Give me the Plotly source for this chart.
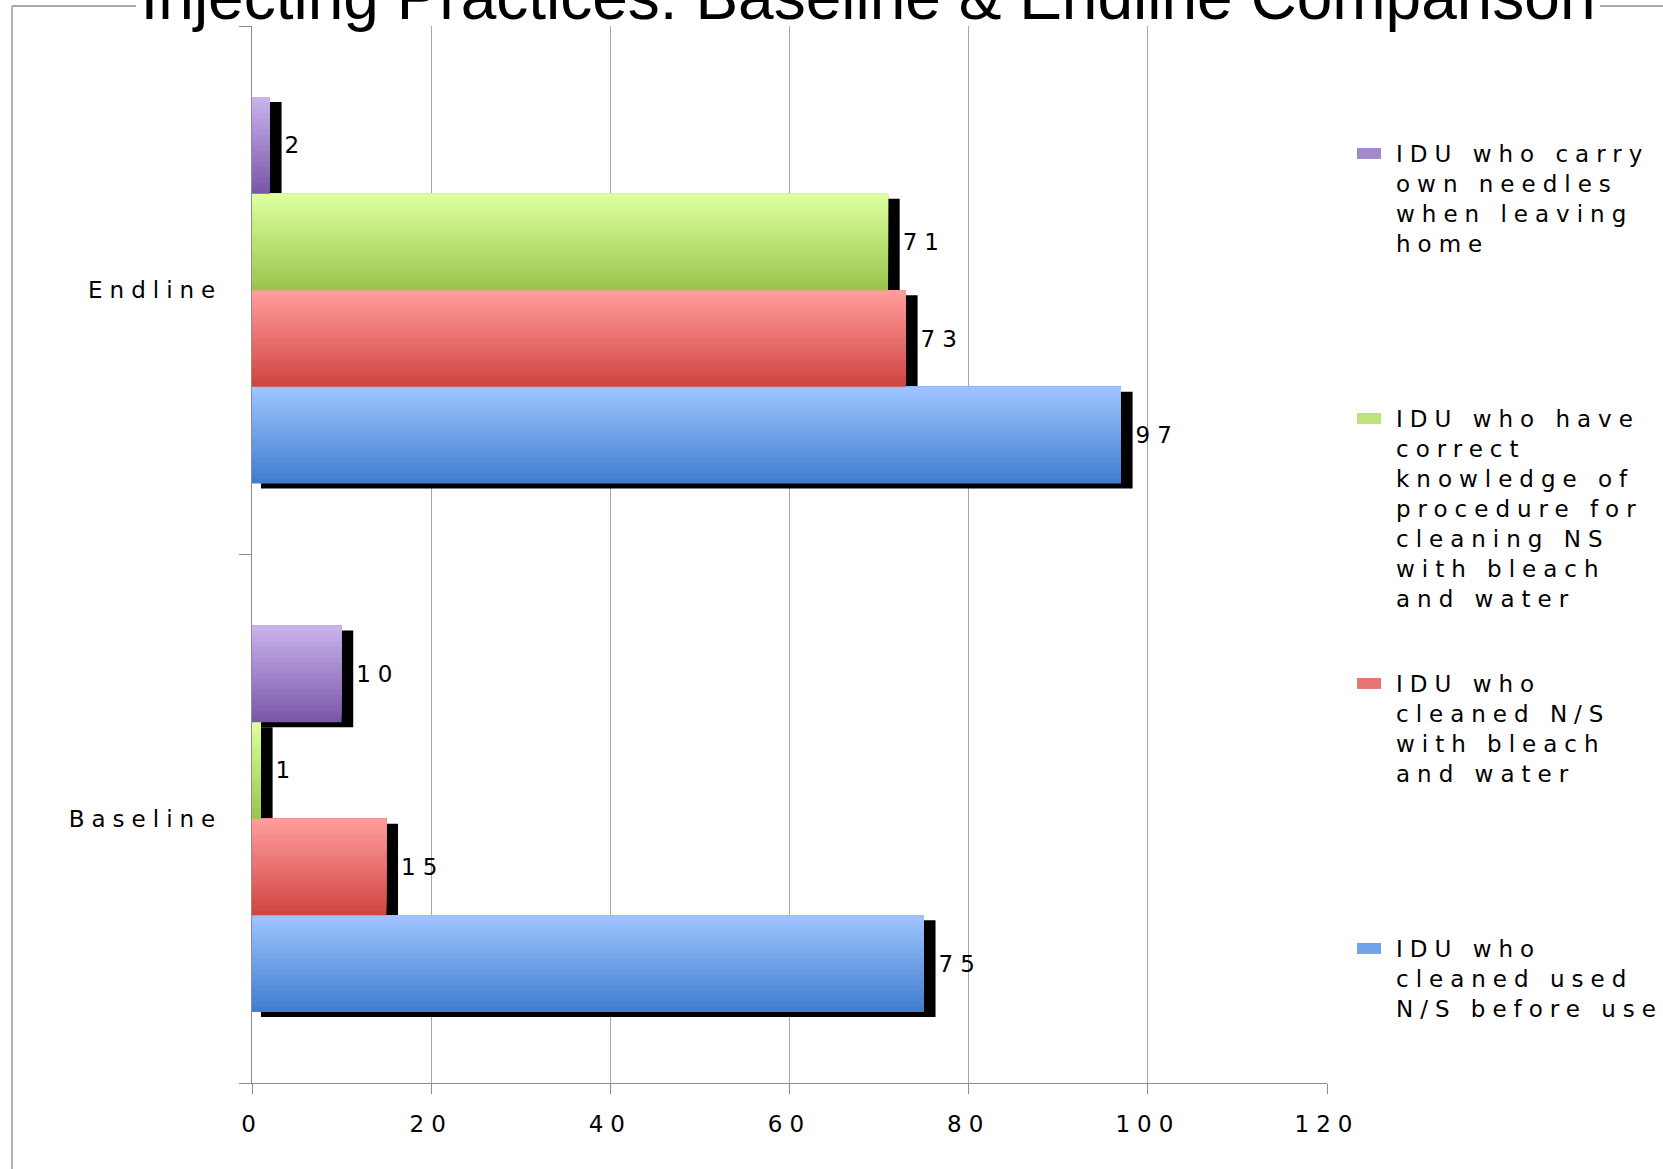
import plotly.graph_objects as go

# ---- data -------------------------------------------------------------
categories = ["Baseline", "Endline"]

# series listed bottom-to-top within each group
series_names = [
    "IDU who<br>cleaned used<br>N/S before use",
    "IDU who<br>cleaned N/S<br>with bleach<br>and water",
    "IDU who have<br>correct<br>knowledge of<br>procedure for<br>cleaning NS<br>with bleach<br>and water",
    "IDU who carry<br>own needles<br>when leaving<br>home",
]
cleaned_before_use = [75, 97]
cleaned_with_bleach = [15, 73]
correct_knowledge = [1, 71]
carry_own_needles = [10, 2]
series_values = [cleaned_before_use, cleaned_with_bleach, correct_knowledge, carry_own_needles]

x_ticks = [0, 20, 40, 60, 80, 100, 120]

# ---- styling ----------------------------------------------------------
W, H = 1663, 1169
L, R, T, B = 252, 336, 26, 86
plot_w, plot_h = W - L - R, H - T - B

# gradient end colours per series (top, bottom)
gradients = [
    ((157, 195, 254), (66, 126, 208)),   # blue
    ((255, 156, 155), (208, 70, 66)),    # red
    ((221, 255, 160), (154, 198, 77)),   # green
    ((199, 178, 236), (123, 88, 168)),   # purple
]
N_STRIPES = 18
bar_w = 0.1828
shadow_dx0 = 1.0        # shadow start (axis units)
shadow_dx1 = 0.3        # extra length of shadow beyond the value
shadow_dy = 5 / (plot_h / 2)   # 5 px downwards, in category units

font_family = "DejaVu Sans, Verdana, sans-serif"
text_size = 23
grey = "#8c8c8c"


def mix(c1, c2, t):
    return "rgb(%d,%d,%d)" % tuple(round(a + (b - a) * t) for a, b in zip(c1, c2))


fig = go.Figure()

# drop shadows underneath everything
for i, vals in enumerate(series_values):
    off = (i - 2) * bar_w
    fig.add_trace(go.Bar(
        y=categories, x=[v + shadow_dx1 for v in vals], base=[shadow_dx0] * len(vals),
        orientation="h", width=bar_w, offset=off - shadow_dy,
        marker=dict(color="black", line=dict(width=0)),
        showlegend=False, hoverinfo="skip",
    ))

# gradient-filled bars: each layer runs from its lower edge to the bar top,
# lighter layers stacked over darker ones
legend_ids = ["legend4", "legend3", "legend2", "legend"]
for i, (vals, name) in enumerate(zip(series_values, series_names)):
    top, bot = gradients[i]
    off = (i - 2) * bar_w
    sw = bar_w / N_STRIPES
    for k in range(N_STRIPES):
        t = k / (N_STRIPES - 1)
        col = mix(bot, top, t)
        fig.add_trace(go.Bar(
            y=categories, x=vals, orientation="h",
            width=bar_w - k * sw, offset=off + k * sw,
            marker=dict(color=col, line=dict(width=0)),
            name=name, legend=legend_ids[i],
            showlegend=(k == N_STRIPES // 2), legendgroup="s%d" % i,
            hoverinfo="x+name",
        ))

# value labels, placed just beyond each shadow
for i, vals in enumerate(series_values):
    off = (i - 2) * bar_w
    fig.add_trace(go.Bar(
        y=categories, x=[v + shadow_dx1 for v in vals], base=[shadow_dx0] * len(vals),
        orientation="h", width=bar_w, offset=off,
        marker=dict(color="rgba(0,0,0,0)", line=dict(width=0)),
        text=[str(v) for v in vals], textposition="outside",
        textfont=dict(family=font_family, size=text_size, color="black"),
        cliponaxis=False, showlegend=False, hoverinfo="skip",
    ))

# one legend box per series so each entry sits at its own height
legend_rows = {"legend": 152, "legend2": 417, "legend3": 682, "legend4": 947}
legend_layout = {}
for lid, py in legend_rows.items():
    legend_layout[lid] = dict(
        x=1356 / W, xref="container", xanchor="left",
        y=1 - (py - 20) / H, yref="container", yanchor="top",
        bgcolor="rgba(0,0,0,0)", borderwidth=0, valign="top",
        font=dict(family=font_family, size=text_size, color="black"),
    )


def px_to_paper_x(px):
    return (px - L) / plot_w


def px_to_paper_y(py):
    return (H - B - py) / plot_h


frame = dict(type="line", xref="paper", yref="paper", line=dict(color=grey, width=1.3), layer="below")
shapes = [
    dict(frame, x0=px_to_paper_x(12), x1=px_to_paper_x(12), y0=px_to_paper_y(6), y1=px_to_paper_y(H + 5)),
    dict(frame, x0=px_to_paper_x(12), x1=px_to_paper_x(136), y0=px_to_paper_y(6), y1=px_to_paper_y(6)),
    dict(frame, x0=px_to_paper_x(1600), x1=px_to_paper_x(W + 5), y0=px_to_paper_y(6), y1=px_to_paper_y(6)),
]

fig.update_layout(
    width=W, height=H, autosize=False,
    margin=dict(l=L, r=R, t=T, b=B, pad=0, autoexpand=False),
    paper_bgcolor="white", plot_bgcolor="white",
    barmode="overlay",
    title=dict(
        text="Injecting Practices: Baseline &amp; Endline Comparison",
        x=868 / W, xref="container", xanchor="center",
        y=1 - 19 / H, yref="container", yanchor="bottom",
        font=dict(family="Liberation Sans, Arial, sans-serif", size=64, color="black"),
    ),
    xaxis=dict(
        range=[0, 120], tickvals=x_ticks, ticktext=[str(v) for v in x_ticks],
        showgrid=True, gridcolor="#a6a6a6", gridwidth=1.2,
        zeroline=False, showline=True, linecolor=grey, linewidth=1.3,
        ticks="outside", ticklen=10, tickcolor=grey, tickwidth=1.3,
        ticklabelstandoff=10,
        tickfont=dict(family=font_family, size=text_size, color="black"),
    ),
    yaxis=dict(
        type="category", categoryorder="array", categoryarray=categories,
        range=[-0.5, 1.5], showgrid=False, zeroline=False,
        showline=True, linecolor=grey, linewidth=1.3,
        ticks="outside", ticklen=12, tickcolor=grey, tickwidth=1.3,
        tickson="boundaries", ticklabelstandoff=24,
        tickfont=dict(family=font_family, size=text_size, color="black"),
    ),
    shapes=shapes,
    **legend_layout,
)

# widen the tracking of axis, legend and value labels after each render,
# and draw the legend swatches as wide flat rectangles
spacing_js = """
var gd = document.getElementById('{plot_id}');
var legendSel = 'g.infolayer g[class^="legend"]';
function spread() {
    gd.querySelectorAll('.xtick text, .ytick text, ' + legendSel + ' text').forEach(function (t) {
        t.style.letterSpacing = '7px';
    });
    gd.querySelectorAll('.bartext').forEach(function (t) {
        if (t.style.letterSpacing) { return; }
        var b0 = t.getBBox();
        t.style.letterSpacing = '7px';
        var b1 = t.getBBox();
        t.setAttribute('x', parseFloat(t.getAttribute('x') || 0) + (b0.x - b1.x));
    });
    gd.querySelectorAll(legendSel + ' [clip-path]').forEach(function (e) {
        e.removeAttribute('clip-path');
    });
    gd.querySelectorAll(legendSel + ' .legendpoints path').forEach(function (p) {
        p.setAttribute('d', 'M-19,-5.5H5V5.5H-19Z');
    });
}
spread();
gd.on('plotly_afterplot', spread);
[50, 200, 600, 1500].forEach(function (ms) { setTimeout(spread, ms); });
"""

fig.write_html("out.html", post_script=spacing_js)
